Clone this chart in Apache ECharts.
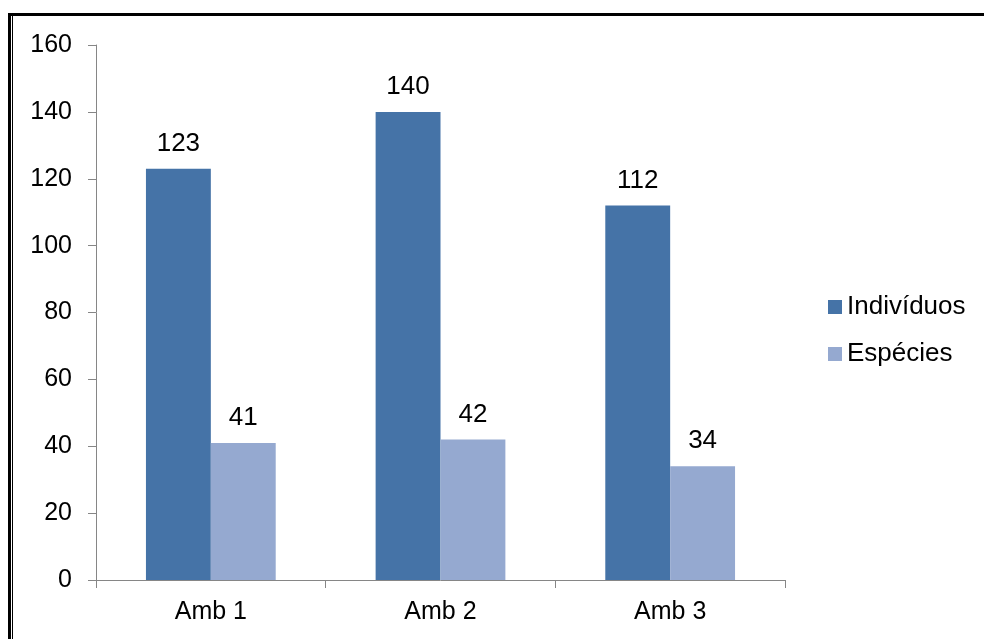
<!DOCTYPE html>
<html><head><meta charset="utf-8">
<script src="https://cdn.jsdelivr.net/npm/echarts@6/dist/echarts.min.js"></script>
<style>html,body{margin:0;padding:0;background:#fff}#c{width:984px;height:639px}</style>
</head><body><div id="c"></div>
<script>
const categories = ['Amb 1', 'Amb 2', 'Amb 3'];
const individuos = [123, 140, 112];
const especies = [41, 42, 34];
const seriesNames = ['Indivíduos', 'Espécies'];

const chart = echarts.init(document.getElementById('c'));
const font = 'Liberation Sans, Arial, sans-serif';
chart.setOption({
  animation: false,
  backgroundColor: '#fff',
  textStyle: { fontFamily: font },
  grid: { left: 96, right: 199, top: 45, bottom: 59 },
  legend: {
    orient: 'vertical', left: 828, top: 294, padding: 0,
    itemWidth: 14, itemHeight: 14, itemGap: 21,
    icon: 'rect',
    textStyle: { fontFamily: font, fontSize: 26, color: '#000' },
    data: seriesNames
  },
  xAxis: {
    type: 'category', data: categories,
    axisLine: { lineStyle: { color: '#868686', width: 1 } },
    axisTick: { show: true, length: 8, lineStyle: { color: '#868686' } },
    axisLabel: { fontFamily: font, fontSize: 25, color: '#000', margin: 20 }
  },
  yAxis: {
    type: 'value', min: 0, max: 160, interval: 20,
    splitLine: { show: false },
    axisLine: { show: true, lineStyle: { color: '#868686', width: 1 } },
    axisTick: { show: true, length: 8, lineStyle: { color: '#868686' } },
    axisLabel: { fontFamily: font, fontSize: 25, color: '#000', margin: 24 }
  },
  series: [
    { name: seriesNames[0], type: 'bar', data: individuos, barGap: '0%', barCategoryGap: '43.5%',
      itemStyle: { color: '#4573A7' },
      label: { show: true, position: 'top', distance: 12, fontFamily: font, fontSize: 26, color: '#000' } },
    { name: seriesNames[1], type: 'bar', data: especies,
      itemStyle: { color: '#95A9D0' },
      label: { show: true, position: 'top', distance: 12, fontFamily: font, fontSize: 26, color: '#000' } }
  ],
  graphic: [
    { type: 'rect', shape: { x: 8, y: 13, width: 980, height: 3 }, style: { fill: '#000' } },
    { type: 'rect', shape: { x: 8, y: 13, width: 3, height: 630 }, style: { fill: '#000' } },
    { type: 'rect', shape: { x: 12, y: 16, width: 1, height: 630 }, style: { fill: '#000' } }
  ]
});
</script></body></html>
